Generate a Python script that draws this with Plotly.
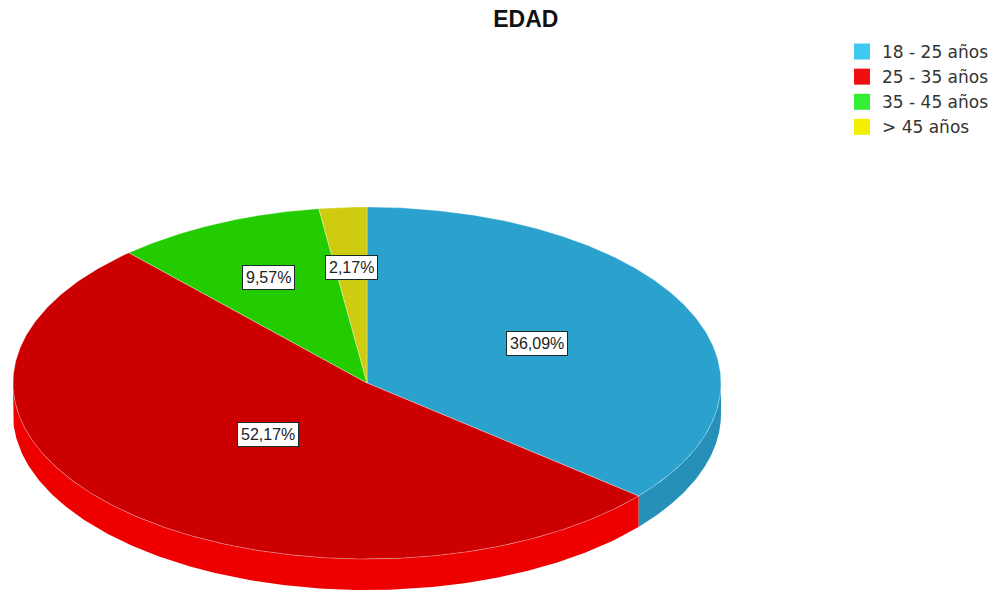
import numpy as np
import plotly.graph_objects as go

# Frecuencias por grupo de edad
categorias = ["18 - 25 años", "25 - 35 años", "35 - 45 años", "> 45 años"]
frecuencias = [83, 120, 22, 5]

# Colores: cara superior, lateral y leyenda
color_cara = ["#2aa2cd", "#cc0000", "#22cc00", "#cfcc10"]
color_lado = ["#2690b9", "#ee0000", "#1fb000", "#b5b20c"]
color_leyenda = ["#3ec8f2", "#ee1010", "#33ee33", "#f2f000"]

# Geometría de la elipse (en píxeles de la figura)
CX, CY, A, B, GROSOR = 367.0, 383.0, 354.0, 176.0, 31.0
fraccion_etiqueta = [0.53, 0.405, 0.66, 0.66]

total = sum(frecuencias)
porcentajes = [100.0 * f / total for f in frecuencias]


def punto(theta_deg, r=1.0, dy=0.0):
    t = np.radians(theta_deg)
    return CX + A * r * np.sin(t), CY - B * r * np.cos(t) + dy


fig = go.Figure()

# Ángulos de cada porción, en sentido horario desde las 12
limites = np.concatenate([[0.0], np.cumsum(porcentajes) * 3.6])

# Lateral visible (mitad frontal: de 90° a 270°)
for i in range(len(categorias)):
    a0, a1 = max(limites[i], 90.0), min(limites[i + 1], 270.0)
    if a1 <= a0:
        continue
    th = np.linspace(a0, a1, 200)
    xs_t, ys_t = punto(th)
    xs_b, ys_b = punto(th[::-1], dy=GROSOR)
    xs = np.concatenate([xs_t, xs_b, xs_t[:1]])
    ys = np.concatenate([ys_t, ys_b, ys_t[:1]])
    fig.add_trace(go.Scatter(
        x=xs, y=ys, mode="lines", fill="toself",
        fillcolor=color_lado[i], line=dict(width=0),
        hoverinfo="skip", showlegend=False,
    ))

# Cara superior
for i in range(len(categorias)):
    th = np.linspace(limites[i], limites[i + 1], 300)
    xs, ys = punto(th)
    xs = np.concatenate([[CX], xs, [CX]])
    ys = np.concatenate([[CY], ys, [CY]])
    fig.add_trace(go.Scatter(
        x=xs, y=ys, mode="lines", fill="toself",
        fillcolor=color_cara[i],
        line=dict(width=0.6, color="rgba(255,255,255,0.55)"),
        name=categorias[i], hoverinfo="name", showlegend=False,
    ))

# Etiquetas de porcentaje
for i in range(len(categorias)):
    medio = (limites[i] + limites[i + 1]) / 2.0
    x, y = punto(medio, r=fraccion_etiqueta[i])
    texto = f"{porcentajes[i]:.2f}%".replace(".", ",")
    fig.add_annotation(
        x=x, y=y, text=texto, showarrow=False,
        font=dict(family="Liberation Sans, Arial, sans-serif", size=16, color="#222222"),
        bgcolor="white", bordercolor="#1a2a2a", borderwidth=1, borderpad=3,
    )

# Entradas de la leyenda
for i in range(len(categorias)):
    fig.add_trace(go.Scatter(
        x=[None], y=[None], mode="markers", name=categorias[i],
        marker=dict(symbol="square", size=17, color=color_leyenda[i]),
        showlegend=True,
    ))

fig.update_layout(
    width=994, height=590,
    margin=dict(l=0, r=0, t=0, b=0),
    paper_bgcolor="white", plot_bgcolor="white",
    title=dict(
        text="<b>EDAD</b>", x=0.529, xanchor="center",
        y=1 - 19 / 590, yanchor="middle", yref="container",
        font=dict(family="Liberation Sans, Arial, sans-serif", size=23, color="#111111"),
    ),
    xaxis=dict(range=[0, 994], visible=False, fixedrange=True),
    yaxis=dict(range=[590, 0], visible=False, fixedrange=True),
    legend=dict(
        x=842 / 994, y=1 - 34 / 590, xanchor="left", yanchor="top",
        font=dict(family="DejaVu Sans, sans-serif", size=17, color="#333333"),
        itemwidth=30, bgcolor="rgba(0,0,0,0)",
    ),
    showlegend=True,
)

fig.write_html("out.html")
